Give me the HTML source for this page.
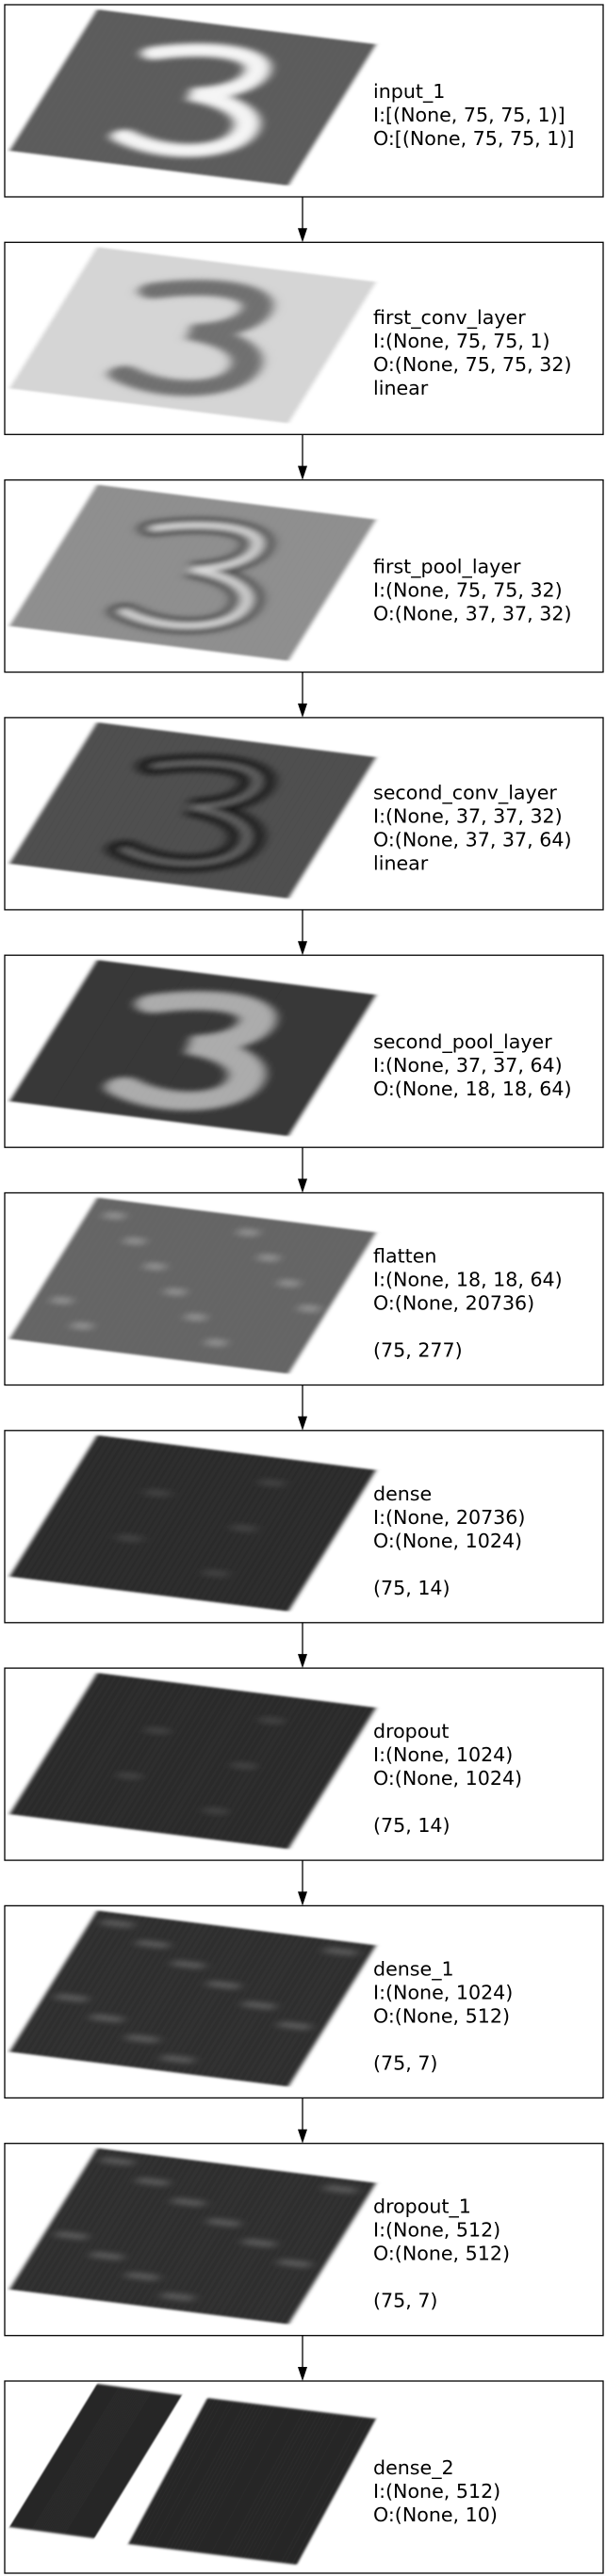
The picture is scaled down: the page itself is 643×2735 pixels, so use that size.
<!DOCTYPE html>
<html><head><meta charset="utf-8"><style>
html,body{margin:0;padding:0;background:#fff;}
svg{display:block;}
text{font-family:"DejaVu Sans","Liberation Sans",sans-serif;font-size:20.6px;fill:#000;}
</style></head><body>
<svg id="chart" width="643" height="2735" viewBox="0 0 643 2735" xmlns="http://www.w3.org/2000/svg">
<defs>
<filter id="blur" x="-20%" y="-20%" width="140%" height="140%"><feGaussianBlur stdDeviation="1.6"/></filter>
<filter id="blur2" x="-20%" y="-20%" width="140%" height="140%"><feGaussianBlur stdDeviation="0.8"/></filter>
<pattern id="grid" width="2.2" height="2.2" patternUnits="userSpaceOnUse"><rect width="2.2" height="2.2" fill="none"/><rect width="0.7" height="2.2" fill="rgba(255,255,255,0.12)"/></pattern>
</defs>
<g id="layers"></g>
</svg>
<script>
const layerNames = ["input_1","first_conv_layer","first_pool_layer","second_conv_layer","second_pool_layer","flatten","dense","dropout","dense_1","dropout_1","dense_2"];
const layerInputs = ["I:[(None, 75, 75, 1)]","I:(None, 75, 75, 1)","I:(None, 75, 75, 32)","I:(None, 37, 37, 32)","I:(None, 37, 37, 64)","I:(None, 18, 18, 64)","I:(None, 20736)","I:(None, 1024)","I:(None, 1024)","I:(None, 512)","I:(None, 512)"];
const layerOutputs = ["O:[(None, 75, 75, 1)]","O:(None, 75, 75, 32)","O:(None, 37, 37, 32)","O:(None, 37, 37, 64)","O:(None, 18, 18, 64)","O:(None, 20736)","O:(None, 1024)","O:(None, 1024)","O:(None, 512)","O:(None, 512)","O:(None, 10)"];
const layerExtra = ["","linear","","linear","","\n(75, 277)","\n(75, 14)","\n(75, 14)","\n(75, 7)","\n(75, 7)",""];
const planeFill = ["#555555","#d3d3d3","#8a8a8a","#474747","#2e2e2e","#5e5e5e","#232323","#222222","#262626","#262626","#1e1e1e"];

const NS="http://www.w3.org/2000/svg";
const root=document.getElementById('layers');
function mk(tag,attrs,parent){const e=document.createElementNS(NS,tag);for(const k in attrs)e.setAttribute(k,attrs[k]);(parent||root).appendChild(e);return e;}
const TOP=5, PERIOD=252.3, BOXH=204, BOXX=5, BOXW=635, TEXTX=396, LINEH=25, TEXTC=117, ARROWX=321;
const threePath="M28,24 C42,16 60,14 65,24 C69,34 62,44 49,48 C64,49 76,57 74,71 C72,85 52,91 35,81";

layerNames.forEach((name,i)=>{
  const y0=TOP+i*PERIOD;
  const g=mk('g',{});
  
  
  const box=mk('rect',{x:BOXX,y:y0,width:BOXW,height:BOXH,fill:'#fff',stroke:'#000','stroke-width':1.3},g);
  
  
  const planes = name==='dense_2'
    ? [[103,3,193,15,10,155],[220,18,399,40,136,173]]
    : [[103,5,399,42,10,155]];
  planes.forEach(p=>{
    const ux=(p[2]-p[0])/100, uy=(p[3]-p[1])/100, vx=(p[4]-p[0])/100, vy=(p[5]-p[1])/100;
    const pg=mk('g',{transform:`matrix(${ux},${uy},${vx},${vy},${p[0]},${y0+p[1]})`},g);
    
    
    const inner=mk('g',{filter:'url(#blur2)'},pg);
    mk('rect',{x:0,y:0,width:100,height:100,fill:planeFill[i]},inner);
    const fg=mk('g',{filter:'url(#blur)'},inner);
    if(name==='input_1'){mk('path',{d:threePath,fill:'none',stroke:'#f4f4f4','stroke-width':9,'stroke-linecap':'round'},fg);}
    else if(name==='first_conv_layer'){mk('path',{d:threePath,fill:'none',stroke:'#6a6a6a','stroke-width':11,'stroke-linecap':'round'},fg);}
    else if(name==='first_pool_layer'){mk('path',{d:threePath,fill:'none',stroke:'#3a3a3a','stroke-width':11,'stroke-linecap':'round'},fg);mk('path',{d:threePath,fill:'none',stroke:'#d8d8d8','stroke-width':4,'stroke-linecap':'round'},fg);}
    else if(name==='second_conv_layer'){mk('path',{d:threePath,fill:'none',stroke:'#111','stroke-width':12,'stroke-linecap':'round'},fg);mk('path',{d:threePath,fill:'none',stroke:'#777','stroke-width':2,'stroke-linecap':'round'},fg);}
    else if(name==='second_pool_layer'){mk('path',{d:threePath,fill:'none',stroke:'#a8a8a8','stroke-width':13,'stroke-linecap':'round'},fg);}
    else if(name==='flatten'){for(let r=0;r<6;r++)for(let c=0;c<8;c++){if((r*3+c*5)%4===0)mk('rect',{x:6+c*12,y:8+r*15,width:7,height:5,fill:'#8a8a8a'},fg);}}
    else if(name==='dense_1'||name==='dropout_1'){for(let r=0;r<9;r++)for(let c=0;c<6;c++){if((r*7+c*3)%5===0)mk('rect',{x:4+c*16,y:5+r*10.5,width:11,height:4,fill:'#555'},fg);}}
    else if(name==='dense'||name==='dropout'){for(let r=0;r<5;r++)for(let c=0;c<5;c++){if((r*2+c*3)%4===1)mk('rect',{x:10+c*18,y:15+r*16,width:8,height:4,fill:'#3a3a3a'},fg);}}
    mk('rect',{x:0,y:0,width:100,height:100,fill:'url(#grid)'},inner);
  });
  const lines=[name,layerInputs[i],layerOutputs[i]];
  if(layerExtra[i]){layerExtra[i].split('\n').forEach(l=>lines.push(l));}
  const startY=y0+TEXTC-(lines.length-1)*LINEH/2+7;
  const t=mk('text',{x:TEXTX,y:startY},g);
  
  
  lines.forEach((l,k)=>{const s=mk('tspan',{x:TEXTX,y:startY+k*LINEH},t);s.textContent=l;});
  if(i<layerNames.length-1){
    const a=mk('g',{},g);
    
    
    const yb=y0+BOXH, yt=TOP+(i+1)*PERIOD;
    mk('line',{x1:ARROWX,y1:yb,x2:ARROWX,y2:yt-14,stroke:'#000','stroke-width':1.3},a);
    mk('polygon',{points:`${ARROWX-5},${yt-15} ${ARROWX+5},${yt-15} ${ARROWX},${yt}`,fill:'#000'},a);
  }
});
</script>
</body></html>
